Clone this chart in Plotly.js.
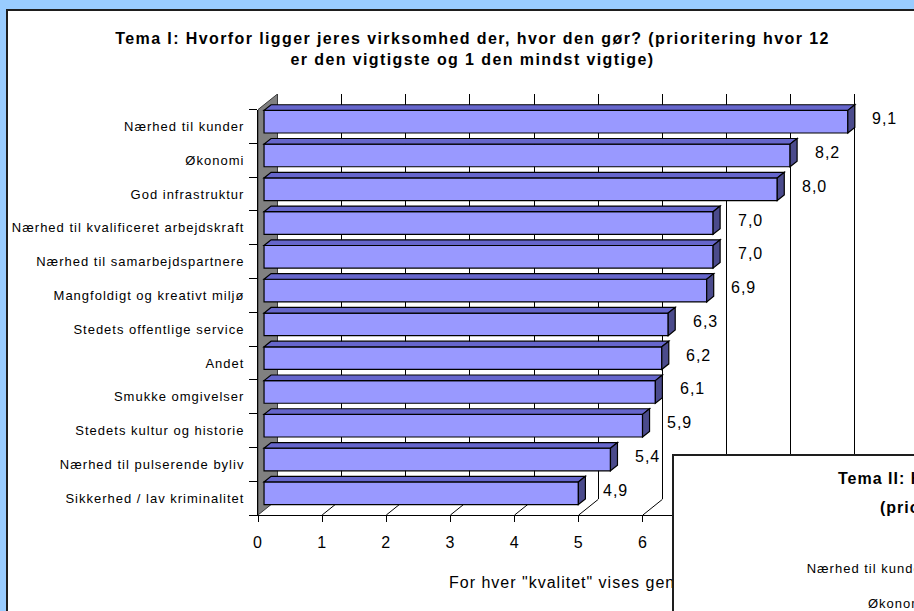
<!DOCTYPE html>
<html>
<head>
<meta charset="utf-8">
<script src="https://cdn.plot.ly/plotly-3.0.1.min.js"></script>
<style>
  html, body { margin: 0; padding: 0; width: 914px; height: 611px; overflow: hidden; background: #99CCFF; }
  #tema1 { position: absolute; left: 6px; top: 9px; width: 1000px; height: 700px; border: 2px solid #1e1e1e; background: #fff; }
  #tema2 { position: absolute; left: 672px; top: 454px; width: 400px; height: 400px; border: 2px solid #1e1e1e; background: #fff; }
  svg text { letter-spacing: 1px; }
  svg .gtitle { letter-spacing: 1.4px; }
</style>
</head>
<body>
<div id="tema1"></div>
<div id="tema2"></div>
<script>
// ---- data ----
const categories = [
  "Nærhed til kunder",
  "Økonomi",
  "God infrastruktur",
  "Nærhed til kvalificeret arbejdskraft",
  "Nærhed til samarbejdspartnere",
  "Mangfoldigt og kreativt miljø",
  "Stedets offentlige service",
  "Andet",
  "Smukke omgivelser",
  "Stedets kultur og historie",
  "Nærhed til pulserende byliv",
  "Sikkerhed / lav kriminalitet"
];
const scores = [9.1, 8.2, 8.0, 7.0, 7.0, 6.9, 6.3, 6.2, 6.1, 5.9, 5.4, 4.9];
const xTicks = [0, 1, 2, 3, 4, 5, 6, 7, 8, 9, 10];
const titleLines = [
  "Tema I: Hvorfor ligger jeres virksomhed der, hvor den gør? (prioritering hvor 12",
  "er den vigtigste og 1 den mindst vigtige)"
];
const axisTitle = 'For hver "kvalitet" vises gennemsnittet af prioriteringerne';

const categories2 = ["Nærhed til kunder", "Økonomi"];
const titleLines2 = [
  "Tema II: Hvad er vigtigst for jeres virksomheds fremtidige placering?",
  "(prioritering hvor 12 er den vigtigste og 1 den mindst vigtige)"
];

// ---- geometry of the 3D box (page pixels) ----
const FONT = "Liberation Sans, Arial, sans-serif";
const FIG1 = { left: 8, top: 11, width: 1000, height: 700 };
const UNIT_X = 64.2;          // px per score unit
const BAND = 33.75;           // px per category band
const FRONT_X0 = 258;         // score 0 on the front edge
const FRONT_TOP = 110;        // top of first band on the front edge
const DEPTH_X = 19.5, DEPTH_Y = -15.6;   // front -> back wall
const BAR_FRONT = 0.31, BAR_BACK = 0.67; // bar depth as fraction of box depth
const BAR_W = 0.67;
const X_MAX = 10;
const n = categories.length;

const regionL = FRONT_X0;
const regionR = FRONT_X0 + DEPTH_X + X_MAX * UNIT_X;
const regionT = FRONT_TOP + DEPTH_Y;
const regionB = FRONT_TOP + n * BAND;
const plotW = regionR - regionL, plotH = regionB - regionT;

const margin1 = {
  l: regionL - FIG1.left,
  t: regionT - FIG1.top,
  r: FIG1.width - (regionR - FIG1.left),
  b: FIG1.height - (regionB - FIG1.top),
  pad: 0
};
const px2paperX = px => (px - regionL) / plotW;
const px2paperY = py => (regionB - py) / plotH;

// bar frame (x3/y3) spans the whole box; coordinates are on the bar's front face
const barX0 = FRONT_X0 + BAR_FRONT * DEPTH_X;
const barY0 = FRONT_TOP + BAR_FRONT * DEPTH_Y;
const frameX = px => (px - barX0) / UNIT_X;
const frameY = py => (py - barY0) / BAND - 0.5;

// point on a depth plane f (0 = front, 1 = back) in bar-frame units
function at(f, xv, yi) {
  return [xv + (f - BAR_FRONT) * DEPTH_X / UNIT_X, yi + (f - BAR_FRONT) * DEPTH_Y / BAND];
}
function pathOf(pts) {
  return "M" + pts.map(p => p[0].toFixed(5) + "," + p[1].toFixed(5)).join("L") + "Z";
}

const idx = categories.map((c, i) => i);
const shapes = [];

// left wall
shapes.push({
  type: "path", xref: "x3", yref: "y3", layer: "below",
  path: pathOf([at(0, 0, -0.5), at(1, 0, -0.5), at(1, 0, n - 0.5), at(0, 0, n - 0.5)]),
  fillcolor: "#808080", line: { color: "#3a3a3a", width: 1 }
});
// floor lines
xTicks.slice(1).forEach(k => {
  const a = at(0, k, n - 0.5), b = at(1, k, n - 0.5);
  shapes.push({
    type: "line", xref: "x3", yref: "y3", layer: "below",
    x0: a[0], y0: a[1], x1: b[0], y1: b[1],
    line: { color: "#000", width: 1 }
  });
});
// bar top and end faces
scores.forEach((v, i) => {
  const t = i - BAR_W / 2, btm = i + BAR_W / 2;
  shapes.push({
    type: "path", xref: "x3", yref: "y3", layer: "above",
    path: pathOf([at(BAR_FRONT, 0, t), at(BAR_FRONT, v, t), at(BAR_BACK, v, t), at(BAR_BACK, 0, t)]),
    fillcolor: "#6666CC", line: { color: "#000", width: 1.2 }
  });
  shapes.push({
    type: "path", xref: "x3", yref: "y3", layer: "above",
    path: pathOf([at(BAR_FRONT, v, t), at(BAR_BACK, v, t), at(BAR_BACK, v, btm), at(BAR_FRONT, v, btm)]),
    fillcolor: "#4B4B8C", line: { color: "#000", width: 1.2 }
  });
});

const valueLabels = scores.map((v, i) => ({
  xref: "x3", yref: "y3", x: v, y: i,
  text: v.toFixed(1).replace(".", ","),
  showarrow: false, xanchor: "center", yanchor: "middle",
  xshift: 37, yshift: 3,
  font: { family: FONT, size: 16, color: "#000" }
}));

const annotations1 = valueLabels.concat([{
  xref: "paper", yref: "paper",
  x: px2paperX(447), y: px2paperY(582),
  xanchor: "left", yanchor: "middle",
  text: axisTitle, showarrow: false,
  font: { family: FONT, size: 16, color: "#000" }
}]);

// the bars, plus carrier traces so the back wall and front edge axes are drawn
const bars = {
  type: "bar", orientation: "h",
  x: scores, y: idx,
  xaxis: "x3", yaxis: "y3",
  width: BAR_W,
  marker: { color: "#9999FF", line: { color: "#000", width: 1.2 } },
  hoverinfo: "skip"
};
const backCarrier = {
  type: "scatter", mode: "markers", x: scores, y: idx, xaxis: "x", yaxis: "y",
  marker: { opacity: 0 }, hoverinfo: "skip"
};
const frontCarrier = {
  type: "scatter", mode: "markers", x: scores, y: idx, xaxis: "x2", yaxis: "y2",
  marker: { opacity: 0 }, hoverinfo: "skip"
};

const layout1 = {
  width: FIG1.width, height: FIG1.height,
  margin: margin1,
  paper_bgcolor: "#fff", plot_bgcolor: "rgba(0,0,0,0)",
  showlegend: false,
  font: { family: FONT, color: "#000" },
  title: {
    text: titleLines.join("<br>"),
    font: { family: FONT, size: 16, weight: 700, color: "#000" },
    xref: "container", yref: "container",
    x: (472.5 - FIG1.left) / FIG1.width, xanchor: "center",
    y: 1 - (44 - FIG1.top) / FIG1.height, yanchor: "middle"
  },
  // back wall: gridlines
  xaxis: {
    domain: [DEPTH_X / plotW, 1], range: [0, X_MAX], anchor: "y",
    tickmode: "array", tickvals: xTicks.slice(1),
    showticklabels: false, ticks: "", showline: false, zeroline: false,
    showgrid: true, gridcolor: "#000", gridwidth: 1, fixedrange: true
  },
  yaxis: {
    domain: [-DEPTH_Y / plotH, 1], range: [n - 0.5, -0.5], anchor: "x",
    showticklabels: false, ticks: "", showline: false, showgrid: false, zeroline: false,
    fixedrange: true
  },
  // front edge: value axis and category labels
  xaxis2: {
    domain: [0, X_MAX * UNIT_X / plotW], range: [0, X_MAX], anchor: "y2",
    tickmode: "array", tickvals: xTicks,
    ticks: "outside", ticklen: 6, tickcolor: "#000", tickwidth: 1,
    ticklabelstandoff: 7,
    showline: true, linecolor: "#000", linewidth: 1,
    showgrid: false, zeroline: false,
    tickfont: { family: FONT, size: 16, color: "#000" }, fixedrange: true
  },
  yaxis2: {
    domain: [0, n * BAND / plotH], range: [n - 0.5, -0.5], anchor: "x2",
    tickmode: "array", tickvals: idx, ticktext: categories,
    ticks: "", ticklabelstandoff: 10,
    showline: true, linecolor: "#000", linewidth: 1,
    showgrid: false, zeroline: false,
    minor: { tickmode: "array", tickvals: idx.concat([n]).map(i => i - 0.5), ticks: "outside", ticklen: 8, tickcolor: "#000", showgrid: false },
    tickfont: { family: FONT, size: 13, color: "#000" }, fixedrange: true
  },
  // bar frame
  xaxis3: {
    domain: [0, 1], range: [frameX(regionL), frameX(regionR)], anchor: "y3",
    visible: false, fixedrange: true
  },
  yaxis3: {
    domain: [0, 1], range: [frameY(regionB), frameY(regionT)], anchor: "x3",
    visible: false, fixedrange: true
  },
  shapes: shapes,
  annotations: annotations1
};

Plotly.newPlot("tema1", [backCarrier, frontCarrier, bars], layout1, { staticPlot: true, displayModeBar: false });

// ---- second chart (partly visible) ----
const FIG2 = { left: 674, top: 456, width: 400, height: 400 };
const CAT2_Y0 = 568, CAT2_STEP = 35, CAT2_RIGHT = 925;
const margin2 = { l: CAT2_RIGHT - FIG2.left + 3, t: 90, r: 10, b: 10, pad: 0 };
const plot2L = FIG2.left + margin2.l, plot2T = FIG2.top + margin2.t;
const plot2W = FIG2.width - margin2.l - margin2.r;
const plot2H = FIG2.height - margin2.t - margin2.b;
const idx2 = py => (py - CAT2_Y0) / CAT2_STEP;

const layout2 = {
  width: FIG2.width, height: FIG2.height,
  margin: margin2,
  paper_bgcolor: "#fff", plot_bgcolor: "#fff",
  showlegend: false,
  font: { family: FONT, color: "#000" },
  xaxis: { range: [0, X_MAX], visible: false, fixedrange: true },
  yaxis: {
    range: [idx2(plot2T + plot2H), idx2(plot2T)],
    tickmode: "array", tickvals: categories2.map((c, i) => i), ticktext: categories2,
    ticks: "", showline: false, showgrid: false, zeroline: false,
    tickfont: { family: FONT, size: 13, color: "#000" }, fixedrange: true
  },
  annotations: [
    { xref: "paper", yref: "paper", x: (836 - plot2L) / plot2W, y: (plot2T + plot2H - 478) / plot2H,
      xanchor: "left", yanchor: "middle", showarrow: false, text: titleLines2[0],
      font: { family: FONT, size: 16, weight: 700, color: "#000" } },
    { xref: "paper", yref: "paper", x: (878 - plot2L) / plot2W, y: (plot2T + plot2H - 507) / plot2H,
      xanchor: "left", yanchor: "middle", showarrow: false, text: titleLines2[1],
      font: { family: FONT, size: 16, weight: 700, color: "#000" } }
  ]
};

Plotly.newPlot("tema2", [], layout2, { staticPlot: true, displayModeBar: false });
</script>
</body>
</html>
